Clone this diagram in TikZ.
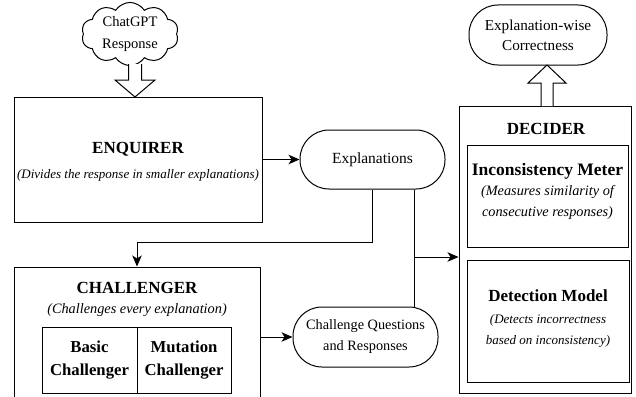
\documentclass[tikz,border=0pt]{standalone}
\usepackage{fontspec}
\setmainfont{Liberation Serif}
\usetikzlibrary{shapes.symbols,arrows.meta}
\begin{document}
\begin{tikzpicture}[x=1pt,y=-1pt,
  box/.style={draw,line width=1pt,rectangle,inner sep=0pt,fill=white},
  pill/.style={draw,line width=1pt,rectangle,rounded corners=29pt,inner sep=0pt,align=center,fill=white},
  conn/.style={line width=1pt,-{Stealth[length=11pt,width=9.5pt,inset=3pt]}},
  plainline/.style={line width=1pt},
  hollow/.style={draw,line width=1pt,fill=white,line join=miter},
  ttl/.style={font=\fontsize{17}{20}\selectfont\bfseries,inner sep=0pt,align=center},
  subA/.style={font=\fontsize{13}{21}\selectfont\itshape,inner sep=0pt,align=center},
  subB/.style={font=\fontsize{14.3}{20.5}\selectfont\itshape,inner sep=0pt,align=center},
  txt/.style={font=\fontsize{14.5}{21.5}\selectfont},
  txtL/.style={font=\fontsize{15.5}{20.5}\selectfont}
]
\path[use as bounding box] (0,0) rectangle (636,396);
\clip (0,0) rectangle (636,396);

% cloud
\node[cloud,draw,line width=1pt,fill=white,cloud puffs=10,cloud puff arc=115,aspect=1.5,
      minimum width=97pt,minimum height=63pt,inner sep=0pt,align=center,txt] (cloud) at (130,34) {ChatGPT\\Response};

% ENQUIRER
\node[box,minimum width=248pt,minimum height=125pt] (enq) at (138,159.5) {};
\node[ttl] (enqT) at (138,149) {ENQUIRER};
\node[subA] (enqS) at (138,175) {(Divides the response in smaller explanations)};

% Explanations
\node[pill,minimum width=145pt,minimum height=59pt,txtL] (expl) at (372.5,159.5) {Explanations};

% CHALLENGER
\node[box,minimum width=246pt,minimum height=133pt] (chal) at (137,333.5) {};
\node[ttl] (chalT) at (137,288) {CHALLENGER};
\node[subB] (chalS) at (137,310) {(Challenges every explanation)};
\node[box,minimum width=95pt,minimum height=66pt,ttl,font=\fontsize{16.7}{23}\selectfont\bfseries] (basic) at (89.5,360) {Basic\\Challenger};
\node[box,minimum width=94pt,minimum height=66pt,ttl,font=\fontsize{16.7}{23}\selectfont\bfseries] (mut) at (184,360) {Mutation\\Challenger};

% Challenge Questions
\node[pill,minimum width=145pt,minimum height=60pt,txt,font=\fontsize{14.3}{21}\selectfont] (cq) at (365.5,337) {Challenge Questions\\and Responses};

% Output
\node[pill,minimum width=138pt,minimum height=60pt,txtL,font=\fontsize{15.2}{20}\selectfont] (outc) at (538,35) {Explanation-wise\\Correctness};

% DECIDER
\node[box,minimum width=172pt,minimum height=287pt] (dec) at (545,249.5) {};
\node[ttl] (decT) at (546,129) {DECIDER};
\node[box,minimum width=161pt,minimum height=102pt] (inc) at (547.5,196) {};
\node[ttl,font=\fontsize{17.5}{20}\selectfont\bfseries] (incT) at (547.5,171) {Inconsistency Meter};
\node[subB] (incS) at (547.5,202.5) {(Measures similarity of\\consecutive responses)};
\node[box,minimum width=162pt,minimum height=122pt] (det) at (548,321) {};
\node[ttl] (detT) at (548,296) {Detection Model};
\node[subA] (detS) at (548,331) {(Detects incorrectness\\based on inconsistency)};

% hollow arrows
\draw[hollow] (128.5,64) -- (128.5,80) -- (115,80) -- (135,97) -- (155,80) -- (141.5,80) -- (141.5,64);
\draw[hollow] (541,106) -- (541,83) -- (528,83) -- (547,65) -- (566,83) -- (553,83) -- (553,106);

% connectors
\draw[conn] (enq.east) -- (expl.west);
\coordinate (bend) at (137,242);
\draw[conn] (expl.south) |- (bend) -- (chal.north);
\coordinate (jn) at (414,257);
\draw[plainline] (expl.south -| jn) -- (cq.north -| jn);
\draw[conn] (jn) -- (jn -| dec.west);
\draw[conn] (chal.east |- cq.west) -- (cq.west);
\end{tikzpicture}
\end{document}
